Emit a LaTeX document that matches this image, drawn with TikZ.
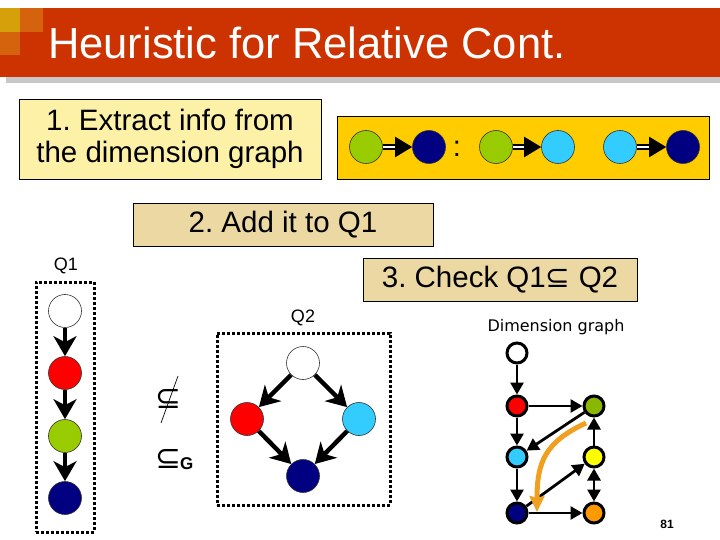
\documentclass[tikz,border=0pt]{standalone}
\usepackage{fontspec}
\setmainfont{Liberation Sans}
\newfontfamily\symfont{DejaVu Sans}
\usepackage{xcolor}
\usetikzlibrary{positioning,arrows.meta}
\frenchspacing

\definecolor{barred}{HTML}{CC3300}
\definecolor{bargold}{HTML}{D6A00A}
\definecolor{barorange}{HTML}{D5620C}
\definecolor{lightyel}{HTML}{FDF1A8}
\definecolor{tanbox}{HTML}{EBD8A2}
\definecolor{goldbox}{HTML}{FFCC00}
\definecolor{vgreen}{HTML}{99CC00}
\definecolor{vnavy}{HTML}{000080}
\definecolor{vcyan}{HTML}{33CCFF}
\definecolor{vred}{HTML}{FF0000}
\definecolor{vyellow}{HTML}{FFFF00}
\definecolor{vorange}{HTML}{FF9900}
\definecolor{curveor}{HTML}{F0A020}

\newcommand{\fs}[1]{\fontsize{#1}{1.2\dimexpr#1pt\relax}\selectfont}

\begin{document}
\begin{tikzpicture}[
  x=1pt, y=-1pt,
  stepbox/.style={draw, line width=0.8pt, inner sep=0pt, align=center, font=\fs{29.5}},
  vx/.style={circle, draw=black!80, line width=0.6pt, minimum size=33pt, inner sep=0pt},
  dv/.style={circle, draw, line width=3pt, minimum size=20pt, inner sep=0pt},
  qbox/.style={draw, line width=3pt, dash pattern=on 3pt off 2pt, inner sep=0pt},
  qar/.style={line width=4.5pt, -{Stealth[length=20pt,width=23pt,inset=6pt]}},
  dar/.style={line width=2.8pt, -{Triangle[length=12pt,width=13pt]}},
  dbl/.style={double, double distance=2.4pt, line width=2pt, -{Triangle[length=17pt,width=20pt]}},
  lbl/.style={inner sep=0pt, font=\fs{18}}
]
  \useasboundingbox (0,0) rectangle (720,540);
  \fill[white] (0,0) rectangle (720,540);

  % title bar
  \fill[black!22] (6,14) rectangle (720,83);
  \fill[barred] (0,8) rectangle (720,77);
  \fill[bargold] (0,8) rectangle (20,32);
  \fill[barorange] (20,8) rectangle (43,32);
  \fill[barorange] (0,32) rectangle (20,55);
  \node[anchor=west, text=white, inner sep=0pt, font=\fs{43.5}] (title) at (48,43) {Heuristic for Relative Cont.};

  % step 1
  \node[stepbox, fill=lightyel, minimum width=302pt, minimum height=80pt] (s1) at (170,139)
    {1. Extract info from\\[-3pt]the dimension graph};
  \node[draw, line width=0.8pt, fill=goldbox, minimum width=372pt, minimum height=63pt] (gb) at (523,147.5) {};
  \node[vx, fill=vgreen] (g1) at (366,147) {};
  \node[vx, fill=vnavy] (n1) at (429,147) {};
  \node[inner sep=0pt, font=\fs{29}] (colon) at (457,149) {:};
  \node[vx, fill=vgreen] (g2) at (496,147) {};
  \node[vx, fill=vcyan] (c1) at (558,147) {};
  \node[vx, fill=vcyan] (c2) at (620,147) {};
  \node[vx, fill=vnavy] (n2) at (683,147) {};
  \draw[dbl] (g1) -- (n1);
  \draw[dbl] (g2) -- (c1);
  \draw[dbl] (c2) -- (n2);

  % steps 2 and 3
  \node[stepbox, fill=tanbox, minimum width=300pt, minimum height=43pt] (s2) at (283,224.5) {2. Add it to Q1};
  \node[stepbox, fill=tanbox, minimum width=274pt, minimum height=43pt] (s3) at (500,280)
    {3. Check Q1{\symfont ⊆} Q2};

  % Q1
  \node[qbox, minimum width=58pt, minimum height=250pt] (q1box) at (65,407) {};
  \node[lbl] (q1lbl) at (66,266) {Q1};
  \node[vx, fill=white] (q1a) at (65,311) {};
  \node[vx, fill=vred] (q1b) at (65,373) {};
  \node[vx, fill=vgreen] (q1c) at (65,436) {};
  \node[vx, fill=vnavy] (q1d) at (65,498) {};
  \draw[qar] (q1a) -- (q1b);
  \draw[qar] (q1b) -- (q1c);
  \draw[qar] (q1c) -- (q1d);

  % Q2
  \node[qbox, minimum width=173pt, minimum height=172pt] (q2box) at (303.5,419) {};
  \node[lbl] (q2lbl) at (303,318) {Q2};
  \node[vx, fill=white] (q2a) at (303,363) {};
  \node[vx, fill=vred] (q2b) at (247,419) {};
  \node[vx, fill=vcyan] (q2c) at (359,419) {};
  \node[vx, fill=vnavy] (q2d) at (303,476) {};
  \draw[qar] (q2a) -- (q2b);
  \draw[qar] (q2a) -- (q2c);
  \draw[qar] (q2b) -- (q2d);
  \draw[qar] (q2c) -- (q2d);

  % containment symbols
  \node[inner sep=0pt, font=\symfont\fs{31}] (nsub) at (168,399) {⊆};
  \draw[line width=0.7pt] (nsub.center) ++(10,-23) -- ++(-17,47);
  \node[inner sep=0pt, font=\symfont\fs{31}] (gsub) at (168,459) {⊆};
  \node[inner sep=0pt, anchor=west, font=\bfseries\fs{17}] (gsubG) at (180,464) {G};

  % dimension graph
  \node[inner sep=0pt, font=\symfont\fs{16}] (dglbl) at (556,327) {Dimension graph};
  \node[dv, fill=white] (dw) at (517,353) {};
  \node[dv, fill=vred] (dr) at (517,406) {};
  \node[dv, fill=vgreen!90!black] (dg) at (594,406) {};
  \node[dv, fill=vcyan] (dc) at (517,457) {};
  \node[dv, fill=vyellow] (dy) at (594,457) {};
  \node[dv, fill=vnavy] (dn) at (517,513) {};
  \node[dv, fill=vorange] (do) at (594,513) {};
  \draw[dar] (dw) -- (dr);
  \draw[dar] (dr) -- (dg);
  \draw[dar] (dr) -- (dc);
  \draw[dar] (dg) -- (dc);
  \draw[dar] (dc) -- (dn);
  \draw[dar] (dn) -- (dy);
  \draw[dar] (dn) -- (do);
  \draw[dar] (dy) -- (dg);
  \draw[dar, {Triangle[length=12pt,width=13pt]}-{Triangle[length=12pt,width=13pt]}] (dy) -- (do);
  \coordinate (os) at (586,423);
  \coordinate (oe) at (537,512);
  \draw[curveor, line width=5pt, -{Stealth[length=16pt,width=15pt,inset=2pt]}] (os) .. controls (545,442) and (537,462) .. (oe);

  % page number
  \node[inner sep=0pt, font=\bfseries\fs{12}] (pgno) at (667,524) {81};
\end{tikzpicture}
\end{document}
